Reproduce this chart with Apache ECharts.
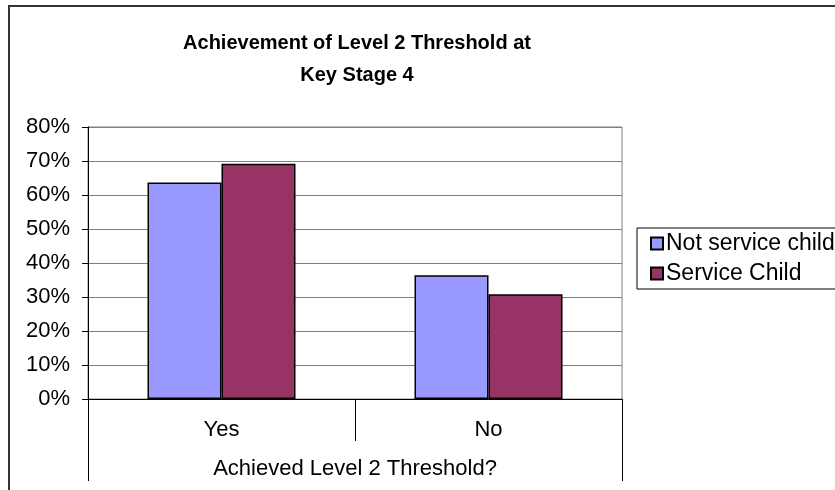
<!DOCTYPE html>
<html>
<head>
<meta charset="utf-8">
<script src="https://cdn.jsdelivr.net/npm/echarts@6/dist/echarts.min.js"></script>
<style>
  html, body { margin: 0; padding: 0; background: #fff; }
  #chart { width: 835px; height: 490px; }
</style>
</head>
<body>
<div id="chart"></div>
<script>
var categories = ['Yes', 'No']
var notServiceChild = [0.637, 0.364]
var serviceChild = [0.692, 0.308]
var yTicks = { min: 0, max: 0.8, interval: 0.1 }

var font = "'Liberation Sans', Arial, sans-serif"
var chart = echarts.init(document.getElementById('chart'))

chart.setOption({
  backgroundColor: '#fff',
  animation: false,
  title: {
    text: 'Achievement of Level 2 Threshold at\nKey Stage 4',
    left: 352,
    top: 22,
    textAlign: 'center',
    textStyle: {
      fontFamily: font,
      fontWeight: 'bold',
      fontSize: 20,
      lineHeight: 32,
      color: '#000'
    }
  },
  legend: {
    orient: 'vertical',
    left: 650,
    top: 232,
    padding: 0,
    itemWidth: 12,
    itemHeight: 12,
    itemGap: 7,
    icon: 'rect',
    textStyle: { fontFamily: font, fontSize: 23, color: '#000', padding: [0, 0, 0, -2] },
    data: ['Not service child', 'Service Child']
  },
  grid: {
    left: 88,
    top: 127,
    width: 534,
    height: 272,
    show: true,
    borderColor: '#808080',
    borderWidth: 1
  },
  xAxis: [
    {
      type: 'category',
      data: categories,
      axisLine: { lineStyle: { color: '#000', width: 1 } },
      axisTick: { show: true, length: 42, lineStyle: { color: '#000' } },
      axisLabel: { margin: 20, fontFamily: font, fontSize: 22, color: '#000' }
    },
    {
      type: 'category',
      position: 'bottom',
      data: ['Achieved Level 2 Threshold?'],
      axisLine: { show: false },
      axisTick: { show: true, length: 82, lineStyle: { color: '#000' } },
      axisLabel: { margin: 59, fontFamily: font, fontSize: 22, color: '#000' }
    }
  ],
  yAxis: {
    type: 'value',
    min: yTicks.min,
    max: yTicks.max,
    interval: yTicks.interval,
    axisLine: { show: true, lineStyle: { color: '#000', width: 1 } },
    axisTick: { show: true, length: 6, lineStyle: { color: '#000' } },
    axisLabel: {
      margin: 18,
      fontFamily: font,
      fontSize: 22,
      color: '#000',
      formatter: function (v) { return Math.round(v * 100) + '%' }
    },
    splitLine: { lineStyle: { color: '#808080', width: 1 } }
  },
  series: [
    {
      name: 'Not service child',
      type: 'bar',
      data: notServiceChild,
      barWidth: 74,
      barGap: 0,
      itemStyle: { color: '#9999FF', borderColor: '#000', borderWidth: 1.5 }
    },
    {
      name: 'Service Child',
      type: 'bar',
      data: serviceChild,
      barWidth: 74,
      itemStyle: { color: '#993366', borderColor: '#000', borderWidth: 1.5 }
    }
  ],
  graphic: [
    {
      type: 'rect',
      shape: { x: 9, y: 6, width: 900, height: 600 },
      style: { fill: 'none', stroke: '#333', lineWidth: 2 },
      silent: true
    },
    {
      type: 'rect',
      shape: { x: 637, y: 228, width: 260, height: 61 },
      style: { fill: 'none', stroke: '#000', lineWidth: 1 },
      silent: true
    }
  ]
})
</script>
</body>
</html>
